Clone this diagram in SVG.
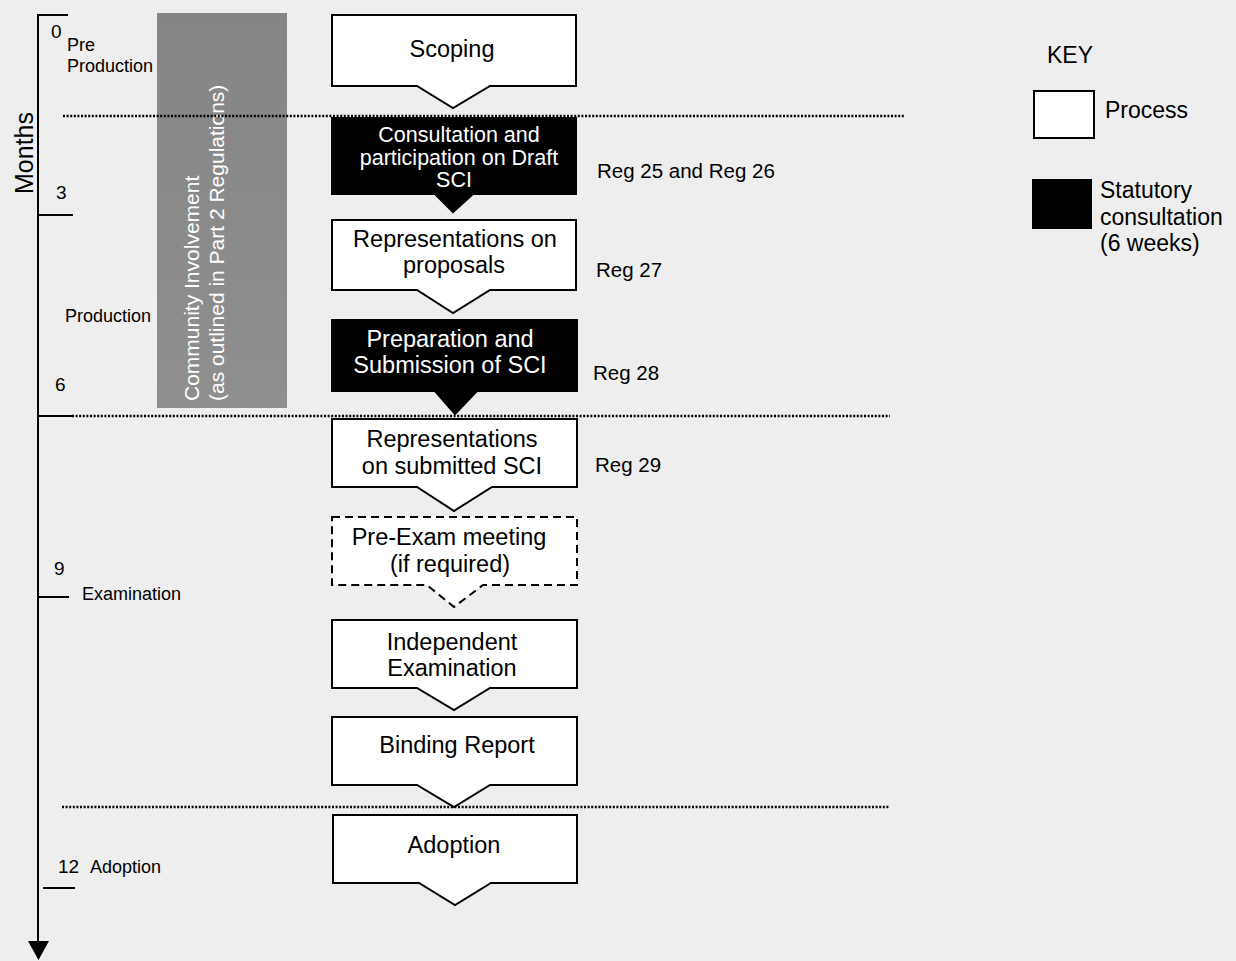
<svg xmlns="http://www.w3.org/2000/svg" width="1236" height="961" viewBox="0 0 1236 961">
<style>
text{font-family:"Liberation Sans",Arial,sans-serif;fill:#000}
.ax{font-size:18px}
.num{font-size:19px}
.nt{font-size:23.5px;text-anchor:middle}
.nw{font-size:21.5px;text-anchor:middle;fill:#fff}
.nb{font-size:23.5px;text-anchor:middle;fill:#fff}
.reg{font-size:20.5px}
.key{font-size:23px}
.bar{font-size:21px;fill:#fff}
.proc{fill:#fff;stroke:#000;stroke-width:2;stroke-linejoin:miter}
.stat{fill:#000;stroke:#000;stroke-width:2}
.opt{fill:#fff;stroke:#000;stroke-width:2;stroke-dasharray:8 5}
.dot{stroke:#000;stroke-width:2.5;stroke-dasharray:2 1.6;fill:none}
.ln{stroke:#000;stroke-width:2;fill:none}
</style>
<defs>
<linearGradient id="barg" x1="0" y1="0" x2="0" y2="1">
<stop offset="0" stop-color="#858585"/>
<stop offset="1" stop-color="#8f8f8f"/>
</linearGradient>
</defs>
<rect x="0" y="0" width="1236" height="961" fill="#eeeeee"/>

<g id="timeline">
<line class="ln" x1="38" y1="14" x2="38" y2="943"/>
<path d="M28,941 L49,941 L38.5,960 Z" fill="#000"/>
<line class="ln" x1="37" y1="15" x2="68" y2="15"/>
<line class="ln" x1="38" y1="215" x2="73" y2="215"/>
<line class="ln" x1="38" y1="416" x2="72" y2="416"/>
<line class="ln" x1="38" y1="597" x2="69" y2="597"/>
<line class="ln" x1="43" y1="888" x2="75" y2="888"/>
<text x="33" y="153" font-size="25" text-anchor="middle" transform="rotate(-90 33 153)">Months</text>
<text class="num" x="51" y="38">0</text>
<text class="ax" x="67" y="51">Pre</text>
<text class="ax" x="67" y="72">Production</text>
<text class="num" x="56" y="199">3</text>
<text class="ax" x="65" y="322">Production</text>
<text class="num" x="55" y="391">6</text>
<text class="num" x="54" y="575">9</text>
<text class="ax" x="82" y="600">Examination</text>
<text class="num" x="58" y="873">12</text>
<text class="ax" x="90" y="873">Adoption</text>
</g>

<g id="community">
<rect x="157" y="13" width="130" height="395" fill="url(#barg)"/>
<text class="bar" x="199" y="401" transform="rotate(-90 199 401)">Community Involvement</text>
<text class="bar" x="224" y="401" transform="rotate(-90 224 401)">(as outlined in Part 2 Regulations)</text>
</g>

<g id="phases">
<line class="dot" x1="63" y1="116" x2="905" y2="116"/>
<line class="dot" x1="72" y1="416" x2="890" y2="416"/>
<line class="dot" x1="62" y1="807" x2="890" y2="807"/>
</g>

<g id="connectors"></g>

<g id="scoping">
<path class="proc" d="M332,15 H576 V86 H490 L453,108 L417,86 H332 Z"/>
<text class="nt" x="452" y="57">Scoping</text>
</g>

<g id="consultation">
<path class="stat" d="M332,118 H576 V194 H473 L453,212 L435,194 H332 Z"/>
<text class="nw" x="459" y="142">Consultation and</text>
<text class="nw" x="459" y="165">participation on Draft</text>
<text class="nw" x="454" y="187">SCI</text>
</g>

<g id="representations-proposals">
<path class="proc" d="M332,220 H576 V290 H490 L453,313 L417,290 H332 Z"/>
<text class="nt" x="455" y="247">Representations on</text>
<text class="nt" x="454" y="273">proposals</text>
</g>

<g id="preparation">
<path class="stat" d="M332,320 H577 V391 H477 L455,414 L435,391 H332 Z"/>
<text class="nb" x="450" y="347">Preparation and</text>
<text class="nb" x="450" y="373">Submission of SCI</text>
</g>

<g id="representations-submitted">
<path class="proc" d="M332,419 H577 V487 H492 L454,511 L417,487 H332 Z"/>
<text class="nt" x="452" y="447">Representations</text>
<text class="nt" x="452" y="474">on submitted SCI</text>
</g>

<g id="pre-exam">
<path class="opt" d="M332,517 H577 V585 H483 L454,607 L427,585 H332 Z"/>
<text class="nt" x="449" y="545">Pre-Exam meeting</text>
<text class="nt" x="450" y="572">(if required)</text>
</g>

<g id="independent">
<path class="proc" d="M332,620 H577 V688 H490 L454,710 L417,688 H332 Z"/>
<text class="nt" x="452" y="650">Independent</text>
<text class="nt" x="452" y="676">Examination</text>
</g>

<g id="binding">
<path class="proc" d="M332,717 H577 V785 H490 L454,807 L417,785 H332 Z"/>
<text class="nt" x="457" y="753">Binding Report</text>
</g>

<g id="adoption">
<path class="proc" d="M333,815 H577 V883 H491 L455,905 L419,883 H333 Z"/>
<text class="nt" x="454" y="853">Adoption</text>
</g>

<g id="regs">
<text class="reg" x="597" y="178">Reg 25 and Reg 26</text>
<text class="reg" x="596" y="277">Reg 27</text>
<text class="reg" x="593" y="380">Reg 28</text>
<text class="reg" x="595" y="472">Reg 29</text>
</g>

<g id="key">
<text class="key" x="1047" y="63" font-size="21">KEY</text>
<rect x="1034" y="91" width="60" height="47" fill="#fff" stroke="#000" stroke-width="2"/>
<text class="key" x="1105" y="118">Process</text>
<rect x="1032" y="179" width="60" height="50" fill="#000"/>
<text class="key" x="1100" y="198">Statutory</text>
<text class="key" x="1100" y="225">consultation</text>
<text class="key" x="1100" y="251">(6 weeks)</text>
</g>
</svg>
